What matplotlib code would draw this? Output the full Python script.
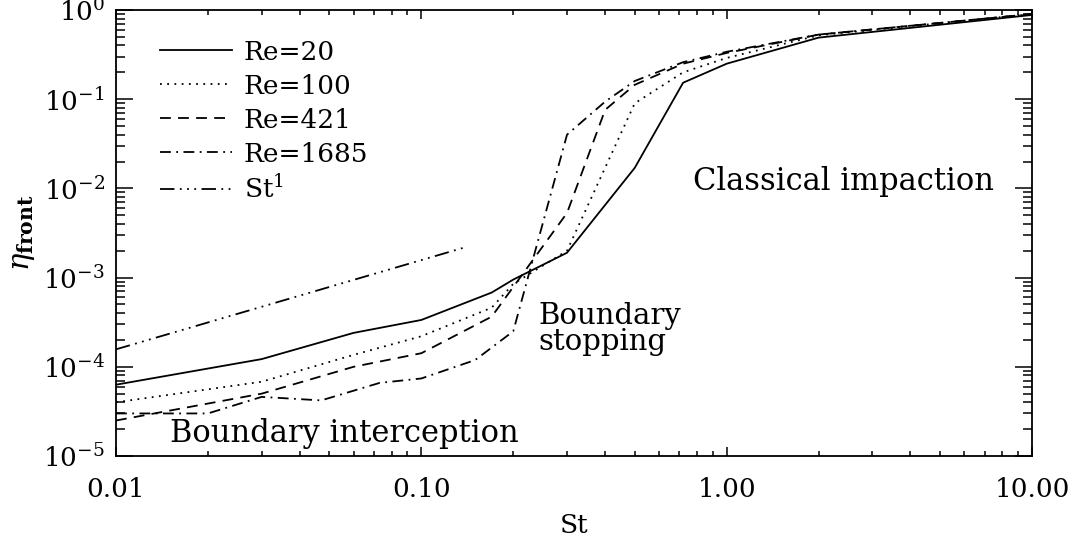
import matplotlib
matplotlib.use("Agg")
import matplotlib.pyplot as plt
from matplotlib.ticker import LogLocator, FixedLocator, FixedFormatter, NullFormatter

# ---- data ----
re20_x = [0.01, 0.03, 0.06, 0.1, 0.17, 0.2, 0.3, 0.5, 0.72, 1.0, 2.0, 10.0]
re20_y = [6.3e-5, 1.22e-4, 2.4e-4, 3.35e-4, 6.8e-4, 9.5e-4, 1.9e-3, 1.7e-2, 0.153, 0.25, 0.49, 0.88]

re100_x = [0.01, 0.03, 0.06, 0.1, 0.17, 0.2, 0.3, 0.5, 0.72, 1.0, 2.0, 10.0]
re100_y = [4.0e-5, 6.8e-5, 1.36e-4, 2.2e-4, 4.6e-4, 8.5e-4, 2.0e-3, 0.09, 0.2, 0.29, 0.52, 0.9]

re421_x = [0.01, 0.03, 0.06, 0.1, 0.17, 0.3, 0.4, 0.5, 0.72, 1.0, 2.0, 10.0]
re421_y = [2.5e-5, 5.0e-5, 1.0e-4, 1.42e-4, 3.65e-4, 5.3e-3, 0.076, 0.145, 0.25, 0.33, 0.53, 0.9]

re1685_x = [0.01, 0.02, 0.03, 0.047, 0.073, 0.1, 0.15, 0.2, 0.3, 0.4, 0.5, 0.72, 1.0, 2.0, 10.0]
re1685_y = [3.0e-5, 3.0e-5, 4.6e-5, 4.2e-5, 6.6e-5, 7.4e-5, 1.19e-4, 2.5e-4, 0.04, 0.094, 0.16, 0.26, 0.34, 0.53, 0.9]

st1_x = [0.01, 0.14]
st1_y = [1.57e-4, 2.2e-3]

labels = ["Re=20", "Re=100", "Re=421", "Re=1685", r"St$^1$"]
xtick_vals = [0.01, 0.1, 1.0, 10.0]
xtick_labels = ["0.01", "0.10", "1.00", "10.00"]
ytick_vals = [1e-5, 1e-4, 1e-3, 1e-2, 1e-1, 1e0]
ytick_labels = [r"$10^{-5}$", r"$10^{-4}$", r"$10^{-3}$", r"$10^{-2}$", r"$10^{-1}$", r"$10^{0}$"]

plt.rcParams["font.family"] = ["DejaVu Serif"]
plt.rcParams["mathtext.fontset"] = "dejavuserif"

fig = plt.figure(figsize=(10.78, 5.41), dpi=100)
ax = fig.add_axes([116/1078, 1 - 456/541, (1032 - 116)/1078, (456 - 10)/541])

lw = 1.3
ax.plot(re20_x, re20_y, color="black", lw=lw, linestyle="-", label=labels[0])
ax.plot(re100_x, re100_y, color="black", lw=lw, linestyle=(0, (1, 3)), label=labels[1])
ax.plot(re421_x, re421_y, color="black", lw=lw, linestyle=(0, (6, 4)), label=labels[2])
ax.plot(re1685_x, re1685_y, color="black", lw=lw, linestyle=(0, (6, 3, 1, 3)), label=labels[3])
ax.plot(st1_x, st1_y, color="black", lw=lw, linestyle=(0, (8, 3, 1, 3, 1, 3, 1, 3)), label=labels[4])

ax.set_xscale("log")
ax.set_yscale("log")
ax.set_xlim(0.01, 10)
ax.set_ylim(1e-5, 1)

ax.xaxis.set_major_locator(FixedLocator(xtick_vals))
ax.xaxis.set_major_formatter(FixedFormatter(xtick_labels))
ax.xaxis.set_minor_locator(LogLocator(base=10, subs=range(2, 10), numticks=20))
ax.xaxis.set_minor_formatter(NullFormatter())
ax.yaxis.set_major_locator(FixedLocator(ytick_vals))
ax.yaxis.set_major_formatter(FixedFormatter(ytick_labels))
ax.yaxis.set_minor_locator(LogLocator(base=10, subs=range(2, 10), numticks=20))
ax.yaxis.set_minor_formatter(NullFormatter())

ax.tick_params(which="both", direction="in", top=True, right=True, width=1.1, color="black")
ax.tick_params(axis="x", which="major", length=6.5, pad=15, labelsize=19)
ax.tick_params(axis="x", which="minor", length=3.5)
ax.tick_params(axis="y", which="major", length=12.5, pad=8, labelsize=19)
ax.tick_params(axis="y", which="minor", length=6.5)
for s in ax.spines.values():
    s.set_linewidth(1.3)

ax.set_xlabel("St", fontsize=19, labelpad=8)
ax.set_ylabel(r"$\eta_{\mathbf{front}}$", fontsize=21, labelpad=4)

ax.text(0.776, 0.0119, "Classical impaction", fontsize=22, va="center", ha="left")
ax.text(0.015, 1.81e-5, "Boundary interception", fontsize=22, va="center", ha="left")
ax.text(0.241, 2.65e-4, "Boundary\nstopping", fontsize=21, va="center", ha="left", linespacing=0.95)

leg = ax.legend(loc="upper left", frameon=False, fontsize=19, handlelength=2.7,
                handletextpad=0.45, labelspacing=0.34, borderaxespad=0.0,
                bbox_to_anchor=(0.037, 0.957))

fig.savefig("out.png", dpi=100)
